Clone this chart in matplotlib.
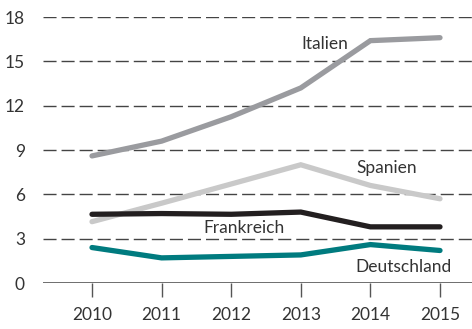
import matplotlib
matplotlib.use("Agg")
import matplotlib.pyplot as plt

years = [2010, 2011, 2012, 2013, 2014, 2015]
italien = [8.6, 9.6, 11.25, 13.2, 16.4, 16.6]
spanien = [4.15, 5.4, 6.7, 8.0, 6.6, 5.7]
frankreich = [4.65, 4.7, 4.65, 4.8, 3.8, 3.8]
deutschland = [2.4, 1.7, 1.8, 1.9, 2.6, 2.2]
yticks = [0, 3, 6, 9, 12, 15, 18]

plt.rcParams['font.family'] = ['Lato', 'DejaVu Sans']
text_color = '#333333'

fig = plt.figure(figsize=(4.72, 3.29), dpi=100)
ax = fig.add_axes([43 / 472, 1 - 283 / 329, 1 - 43 / 472, (283 - 17) / 329])

for v in yticks[1:]:
    ax.axhline(v, color='#444444', lw=1.0, linestyle=(0, (9.4, 3.6)), zorder=1)
ax.axhline(0, color='#555555', lw=1.2, zorder=1)

lw = 3.8
ax.plot(years, italien, color='#9a9b9f', lw=lw, solid_capstyle='round', solid_joinstyle='miter', zorder=3)
ax.plot(years, spanien, color='#c9c9c9', lw=lw, solid_capstyle='round', solid_joinstyle='miter', zorder=3)
ax.plot(years, frankreich, color='#231f20', lw=lw, solid_capstyle='round', solid_joinstyle='miter', zorder=4)
ax.plot(years, deutschland, color='#007b7f', lw=lw, solid_capstyle='round', solid_joinstyle='miter', zorder=4)

fs = 12.5
ax.text(2013.35, 16.15, 'Italien', color=text_color, fontsize=fs, ha='center', va='center')
ax.text(2014.24, 7.75, 'Spanien', color=text_color, fontsize=fs, ha='center', va='center')
ax.text(2012.19, 3.75, 'Frankreich', color=text_color, fontsize=fs, ha='center', va='center')
ax.text(2014.48, 1.05, 'Deutschland', color=text_color, fontsize=fs, ha='center', va='center')

ax.set_xlim(2010 - 49 / 69.6, 2015 + 32 / 69.6)
ax.set_ylim(0, 18)
ax.set_yticks(yticks)
ax.set_xticks(years)
ax.tick_params(axis='y', length=0, pad=13, labelsize=fs, labelcolor=text_color)
ax.tick_params(axis='x', length=10, width=1.0, color='#555555', pad=7,
               labelsize=fs, labelcolor=text_color)
for s in ax.spines.values():
    s.set_visible(False)
ax.patch.set_alpha(0)

fig.savefig('out.png', dpi=100)
